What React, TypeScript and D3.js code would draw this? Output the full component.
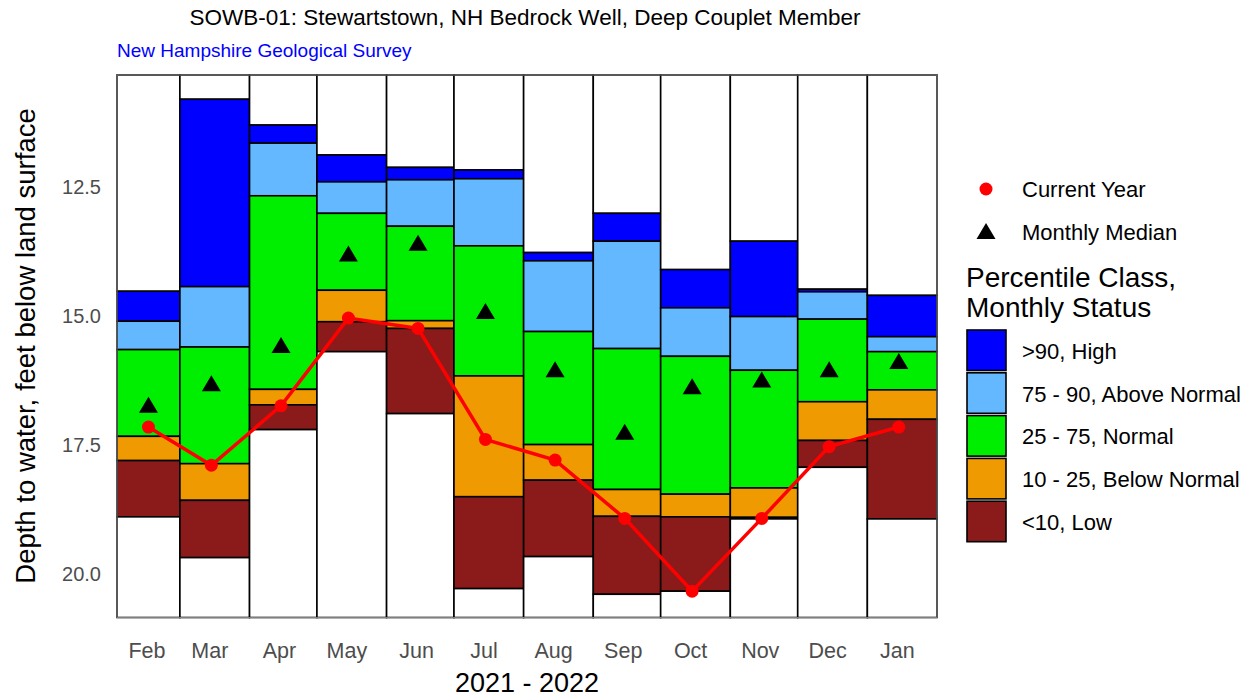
import React from "react";
import * as d3 from "d3";

const months = ["Feb", "Mar", "Apr", "May", "Jun", "Jul", "Aug", "Sep", "Oct", "Nov", "Dec", "Jan"];
const monthStarts = ["2021-02-01", "2021-03-01", "2021-04-01", "2021-05-01", "2021-06-01", "2021-07-01", "2021-08-01", "2021-09-01", "2021-10-01", "2021-11-01", "2021-12-01", "2022-01-01", "2022-02-01"];

// depth thresholds (feet below land surface), shallow to deep
const pMax = [14.52, 10.80, 11.30, 11.88, 12.12, 12.17, 13.77, 13.01, 14.10, 13.55, 14.48, 14.60];
const p90 = [15.10, 14.43, 11.65, 12.40, 12.36, 12.34, 13.93, 13.55, 14.84, 15.01, 14.53, 15.40];
const p75 = [15.65, 15.60, 12.67, 13.01, 13.26, 13.64, 15.30, 15.63, 15.78, 16.05, 15.06, 15.69];
const p25 = [17.33, 17.86, 16.42, 14.50, 15.09, 16.16, 17.49, 18.36, 18.45, 18.33, 16.66, 16.43];
const p10 = [17.80, 18.57, 16.72, 15.11, 15.24, 18.50, 18.18, 18.88, 18.89, 18.90, 17.41, 17.00];
const pMin = [18.89, 19.68, 17.20, 15.69, 16.89, 20.28, 19.66, 20.39, 20.33, 18.93, 17.93, 18.93];
const medians = [16.72, 16.30, 15.56, 13.79, 13.58, 14.90, 16.03, 17.24, 16.36, 16.23, 16.03, 15.87];
const current = [17.15, 17.89, 16.74, 15.04, 15.24, 17.39, 17.79, 18.92, 20.33, 18.92, 17.53, 17.15];
const yTicks = [12.5, 15.0, 17.5, 20.0];

const classColors = ["#0000FF", "#63B8FF", "#00EE00", "#EE9A00", "#8B1A1A"];
const classLabels = [">90, High", "75 - 90, Above Normal", "25 - 75, Normal", "10 - 25, Below Normal", "<10, Low"];

const FONT = "'Liberation Sans', Arial, sans-serif";

export default function App() {
  const W = 1251, H = 700;
  const left = 117, right = 937, top = 75, bottom = 617.5;
  const parse = d3.utcParse("%Y-%m-%d");
  const starts = monthStarts.map((s) => parse(s) as Date);
  const x = d3.scaleUtc().domain([starts[0], starts[12]]).range([left, right]);
  const y = d3.scaleLinear().domain([10.33, 20.84]).range([top, bottom]);
  const mid = (i: number) => x(d3.utcDay.offset(starts[i], 14));

  const bands = months.map((m, i) => {
    const b = [y.domain()[0], pMax[i], p90[i], p75[i], p25[i], p10[i], pMin[i], y.domain()[1]];
    const fills = ["#FFFFFF", ...classColors, "#FFFFFF"];
    return fills.map((f, k) => ({ x0: x(starts[i]), x1: x(starts[i + 1]), y0: y(b[k]), y1: y(b[k + 1]), fill: f }));
  });

  const line = d3.line<number>().x((_, i) => mid(i)).y((d) => y(d));
  const tri = (cx: number, cy: number) => `M${cx - 9.5},${cy + 8}L${cx + 9.5},${cy + 8}L${cx},${cy - 8}Z`;

  return (
    <svg width={W} height={H} style={{ position: "absolute", left: 0, top: 0, background: "#fff" }} fontFamily={FONT}>
      <text x={525} y={17} dy="0.35em" textAnchor="middle" fontSize={22.5} fill="#000">SOWB-01: Stewartstown, NH Bedrock Well, Deep Couplet Member</text>
      <text x={117} y={50} dy="0.35em" fontSize={19} fill="#0000FF">New Hampshire Geological Survey</text>

      {bands.map((bs, i) => (
        <g key={i}>
          {bs.map((r, k) => (
            r.y1 - r.y0 > 0.01 ? (
              <rect key={k} x={r.x0} y={r.y0} width={r.x1 - r.x0} height={r.y1 - r.y0} fill={r.fill} stroke="#000" strokeWidth={1.6} />
            ) : null
          ))}
        </g>
      ))}
      <rect x={left} y={top} width={right - left} height={bottom - top} fill="none" stroke="#7f7f7f" strokeWidth={1} />

      {medians.map((v, i) => (
        <path key={i} d={tri(mid(i), y(v))} fill="#000" />
      ))}
      <path d={line(current) || ""} fill="none" stroke="#FF0000" strokeWidth={3.5} />
      {current.map((v, i) => (
        <circle key={i} cx={mid(i)} cy={y(v)} r={6.5} fill="#FF0000" />
      ))}

      {yTicks.map((t) => (
        <text key={t} x={101} y={y(t)} dy="0.35em" textAnchor="end" fontSize={20} fill="#4D4D4D">{t.toFixed(1)}</text>
      ))}
      {months.map((m, i) => (
        <text key={m} x={mid(i) - 1.5} y={650} dy="0.35em" textAnchor="middle" fontSize={21.5} fill="#4D4D4D">{m}</text>
      ))}
      <text x={527} y={683} dy="0.35em" textAnchor="middle" fontSize={27} fill="#000">2021 - 2022</text>
      <text transform={`translate(25,346) rotate(-90)`} dy="0.35em" textAnchor="middle" fontSize={27.5} fill="#000">Depth to water, feet below land surface</text>

      <circle cx={986} cy={189} r={6.5} fill="#FF0000" />
      <text x={1022} y={189} dy="0.35em" fontSize={22} fill="#000">Current Year</text>
      <path d={tri(986, 231)} fill="#000" />
      <text x={1022} y={232} dy="0.35em" fontSize={22} fill="#000">Monthly Median</text>
      <text x={966} y={277} dy="0.35em" fontSize={28} fill="#000">Percentile Class,</text>
      <text x={966} y={307} dy="0.35em" fontSize={28} fill="#000">Monthly Status</text>
      {classLabels.map((l, k) => (
        <g key={l}>
          <rect x={967} y={330 + k * 42.8} width={39} height={40.5} fill={classColors[k]} stroke="#000" strokeWidth={1.6} />
          <text x={1022} y={351 + k * 42.8} dy="0.35em" fontSize={22} fill="#000">{l}</text>
        </g>
      ))}
    </svg>
  );
}
